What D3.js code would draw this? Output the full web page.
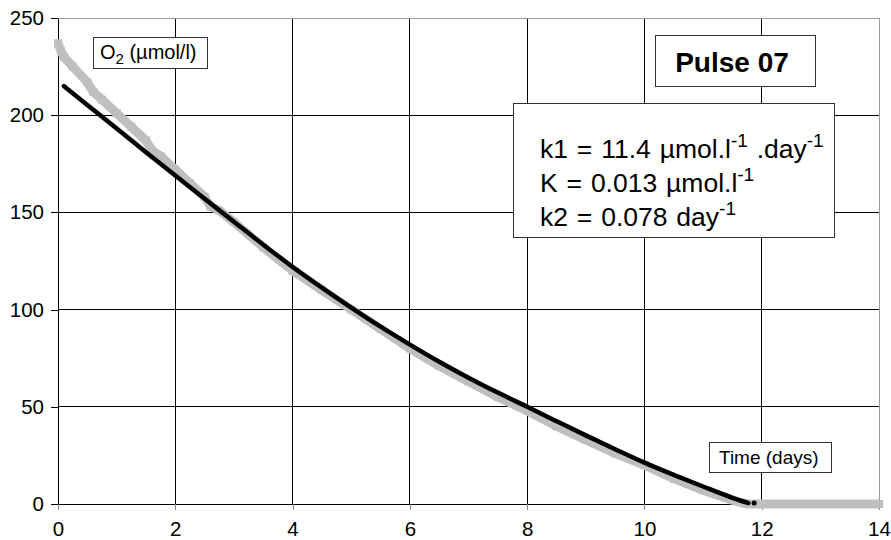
<!DOCTYPE html>
<html>
<head>
<meta charset="utf-8">
<script src="https://cdn.jsdelivr.net/npm/d3@7"></script>
<style>
  body { margin: 0; background: #fff; }
  svg { display: block; font-family: "Liberation Sans", Arial, Helvetica, sans-serif; }
</style>
</head>
<body>
<svg width="891" height="540"></svg>
<script>
// measured O2 (grey squares), days / umol/l
const measDays = [0, 0.05, 0.1, 0.25, 0.5, 0.6, 0.75, 1, 1.25, 1.5, 1.6, 1.75, 2, 2.25, 2.5, 2.6, 2.75, 3, 3.5, 4, 4.5, 5, 5.5, 6, 6.5, 7, 7.5, 8, 8.5, 9, 9.5, 10, 10.5, 11, 11.5, 11.75, 12, 12.5, 13, 13.5, 14];
const measO2   = [237, 233, 230, 225, 217, 212, 208, 201, 194, 187, 182, 179, 172, 165, 158, 153, 151, 145, 132, 120, 110, 100, 90, 80, 71, 63, 55, 48, 40, 33, 26, 20, 13, 7, 2, 0, 0, 0, 0, 0, 0];

// fitted model (black line)
const fitDays = [0.1, 0.5, 1, 1.5, 2, 2.5, 3, 3.5, 4, 4.5, 5, 5.5, 6, 6.5, 7, 7.5, 8, 8.5, 9, 9.5, 10, 10.5, 11, 11.5, 11.77];
const fitO2   = [215, 205.3, 193.2, 181, 169, 157, 145.2, 133.4, 122, 111.3, 101, 91.2, 82, 73.2, 65, 57.3, 50, 42.6, 35.3, 28.2, 21.3, 15, 9, 3.2, 0.5];
const fitTail = [[11.87, 0.5]];

const xTicks = [0, 2, 4, 6, 8, 10, 12, 14];
const yTicks = [0, 50, 100, 150, 200, 250];

const params = [
  [["k1 = 11.4 µmol.l", ""], ["-1", "sup"], [" .day", ""], ["-1", "sup"]],
  [["K = 0.013 µmol.l", ""], ["-1", "sup"]],
  [["k2 = 0.078 day", ""], ["-1", "sup"]]
];

const svg = d3.select("svg");
const x = d3.scaleLinear().domain([0, 14]).range([58, 879]);
const y = d3.scaleLinear().domain([0, 250]).range([504, 18]);

// grid
const grid = svg.append("g").attr("shape-rendering", "crispEdges");
grid.selectAll(".vg").data(xTicks.filter(d => d > 0 && d < 14)).enter().append("line")
  .attr("x1", d => x(d)).attr("x2", d => x(d))
  .attr("y1", y(250)).attr("y2", y(0))
  .attr("stroke", "#000").attr("stroke-width", 1);
grid.selectAll(".hg").data(yTicks.filter(d => d > 0 && d < 250)).enter().append("line")
  .attr("x1", x(0)).attr("x2", x(14))
  .attr("y1", d => y(d)).attr("y2", d => y(d))
  .attr("stroke", "#000").attr("stroke-width", 1);
// top and right border
grid.append("line").attr("x1", x(0)).attr("x2", x(14)).attr("y1", y(250)).attr("y2", y(250))
  .attr("stroke", "#999");
grid.append("line").attr("x1", x(14)).attr("x2", x(14)).attr("y1", y(250)).attr("y2", y(0))
  .attr("stroke", "#999");

// axes
const yAxis = svg.append("g")
  .attr("transform", `translate(${x(0)},0)`)
  .call(d3.axisLeft(y).tickValues(yTicks).tickSize(7).tickPadding(7).tickSizeOuter(0));
const xAxis = svg.append("g")
  .attr("transform", `translate(0,${y(0)})`)
  .call(d3.axisBottom(x).tickValues(xTicks).tickSize(6).tickPadding(11).tickSizeOuter(0));
[xAxis, yAxis].forEach(a => {
  a.select(".domain").attr("stroke", "#000").attr("shape-rendering", "crispEdges");
  a.selectAll("text").attr("font-size", 20.5).attr("fill", "#000")
    .attr("font-family", "Liberation Sans, Arial, sans-serif");
  a.selectAll(".tick line").attr("shape-rendering", "crispEdges");
});
yAxis.selectAll(".tick line").attr("stroke", "#000");
xAxis.selectAll(".tick line").attr("stroke", "#888");

// measured data
const meas = measDays.map((d, i) => [d, measO2[i]]);
const line = d3.line().x(d => x(d[0])).y(d => y(d[1]));
svg.append("path").datum(meas)
  .attr("d", line).attr("fill", "none")
  .attr("stroke", "#bfbfbf").attr("stroke-width", 9);
svg.append("g").selectAll("rect").data(meas).enter().append("rect")
  .attr("x", d => x(d[0]) - 4).attr("y", d => y(d[1]) - 4)
  .attr("width", 8).attr("height", 8).attr("fill", "#bfbfbf");

// fitted line
const fit = fitDays.map((d, i) => [d, fitO2[i]]);
svg.append("path").datum(fit)
  .attr("d", line.curve(d3.curveMonotoneX)).attr("fill", "none")
  .attr("stroke", "#000").attr("stroke-width", 4.5).attr("stroke-linecap", "round");
svg.append("g").selectAll("circle").data(fitTail).enter().append("circle")
  .attr("cx", d => x(d[0])).attr("cy", d => y(d[1])).attr("r", 2.5).attr("fill", "#000");

// label boxes
function box(x0, y0, w, h) {
  svg.append("rect").attr("x", x0 + 0.5).attr("y", y0 + 0.5).attr("width", w).attr("height", h)
    .attr("fill", "#fff").attr("stroke", "#333").attr("stroke-width", 1);
}

box(93, 37, 114, 31);
const o2 = svg.append("text").attr("x", 100).attr("y", 59).attr("font-size", 20);
o2.append("tspan").text("O");
o2.append("tspan").attr("font-size", 15).attr("dy", 5).text("2");
o2.append("tspan").attr("dy", -5).text(" (µmol/l)");

box(709, 442, 122, 30);
svg.append("text").attr("x", 719).attr("y", 464).attr("font-size", 19).text("Time (days)");

box(655, 35, 160, 51);
svg.append("text").attr("x", 732).attr("y", 72).attr("text-anchor", "middle")
  .attr("font-size", 28).attr("font-weight", "bold").text("Pulse 07");

box(513, 103, 321, 134);
params.forEach((parts, i) => {
  const t = svg.append("text").attr("x", 540).attr("y", 147 + i * 34).attr("font-size", 26.5)
    .attr("word-spacing", 1.5);
  parts.forEach(([s, kind]) => {
    if (kind === "sup") {
      t.append("tspan").attr("font-size", 19).attr("dy", -11).text(s);
    } else {
      t.append("tspan").attr("dy", t.selectAll("tspan").size() ? 11 : 0).text(s);
    }
  });
});
</script>
</body>
</html>
